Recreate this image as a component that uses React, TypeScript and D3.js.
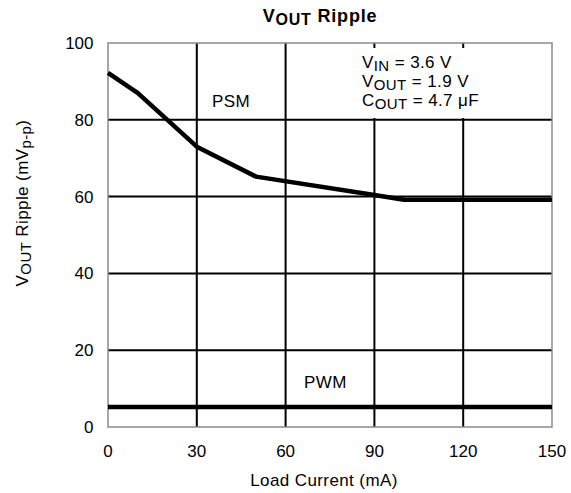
import * as d3 from 'd3';

// Load current (mA) and ripple (mVp-p)
const psmLoad = [0, 10, 30, 50, 90, 100, 150];
const psmRipple = [92.2, 87, 73, 65.2, 60.4, 59.2, 59.2];
const pwmLoad = [0, 150];
const pwmRipple = [5.2, 5.2];

const xTicks = [0, 30, 60, 90, 120, 150];
const yTicks = [0, 20, 40, 60, 80, 100];

const W = 571;
const H = 493;
const font = '"Liberation Sans", Arial, Helvetica, sans-serif';

export default function App() {
  const x = d3.scaleLinear().domain([0, 150]).range([108, 552]);
  const y = d3.scaleLinear().domain([0, 100]).range([427, 43]);

  const line = d3
    .line<number>()
    .x((_, i) => x(psmLoad[i]))
    .y((d) => y(d));
  const pwmLine = d3
    .line<number>()
    .x((_, i) => x(pwmLoad[i]))
    .y((d) => y(d));

  const sub = { fontSize: 15 };
  const ls = 0.4;

  return (
    <svg
      width={W}
      height={H}
      style={{ position: 'absolute', left: 0, top: 0, background: '#fff' }}
      fontFamily={font}
    >
      {/* title */}
      <text x={320} y={22} textAnchor="middle" fontSize={18} fontWeight="bold" letterSpacing={0.8}>
        V<tspan dy={3} fontSize={16}>OUT</tspan>
        <tspan dy={-3}> Ripple</tspan>
      </text>

      {/* grid */}
      {xTicks.slice(1, -1).map((t) => (
        <line key={`gx${t}`} x1={x(t)} x2={x(t)} y1={y(100)} y2={y(0)} stroke="#000" strokeWidth={2} />
      ))}
      {yTicks.slice(1, -1).map((t) => (
        <line key={`gy${t}`} x1={x(0)} x2={x(150)} y1={y(t)} y2={y(t)} stroke="#000" strokeWidth={2} />
      ))}

      {/* white box behind the conditions */}
      <rect x={362} y={48} width={122} height={70} fill="#fff" />

      {/* frame */}
      <rect
        x={x(0)}
        y={y(100)}
        width={x(150) - x(0)}
        height={y(0) - y(100)}
        fill="none"
        stroke="#8a8a8a"
        strokeWidth={1.5}
      />

      {/* curves */}
      <path d={line(psmRipple) ?? ''} fill="none" stroke="#000" strokeWidth={4.5} strokeLinejoin="round" />
      <path d={pwmLine(pwmRipple) ?? ''} fill="none" stroke="#000" strokeWidth={4.5} />

      {/* tick labels */}
      {yTicks.map((t) => (
        <text key={`yl${t}`} x={93.5} y={y(t) + 6} textAnchor="end" fontSize={17}>
          {t}
        </text>
      ))}
      {xTicks.map((t) => (
        <text key={`xl${t}`} x={x(t)} y={457} textAnchor="middle" fontSize={17}>
          {t}
        </text>
      ))}

      {/* axis titles */}
      <text x={324} y={486} textAnchor="middle" fontSize={17} letterSpacing={ls}>
        Load Current (mA)
      </text>
      <text transform="translate(28,203) rotate(-90)" textAnchor="middle" fontSize={17} letterSpacing={ls}>
        V<tspan dy={3} {...sub}>OUT</tspan>
        <tspan dy={-3}> Ripple (mV</tspan>
        <tspan dy={3} {...sub}>p-p</tspan>
        <tspan dy={-3}>)</tspan>
      </text>

      {/* annotations */}
      <g fontSize={17} letterSpacing={ls}>
        <text x={212} y={107}>PSM</text>
        <text x={304} y={388}>PWM</text>
        <text x={362} y={68}>
          V<tspan dy={3} {...sub}>IN</tspan>
          <tspan dy={-3}> = 3.6 V</tspan>
        </text>
        <text x={362} y={87}>
          V<tspan dy={3} {...sub}>OUT</tspan>
          <tspan dy={-3}> = 1.9 V</tspan>
        </text>
        <text x={362} y={106}>
          C<tspan dy={3} {...sub}>OUT</tspan>
          <tspan dy={-3}> = 4.7 μF</tspan>
        </text>
      </g>
    </svg>
  );
}
